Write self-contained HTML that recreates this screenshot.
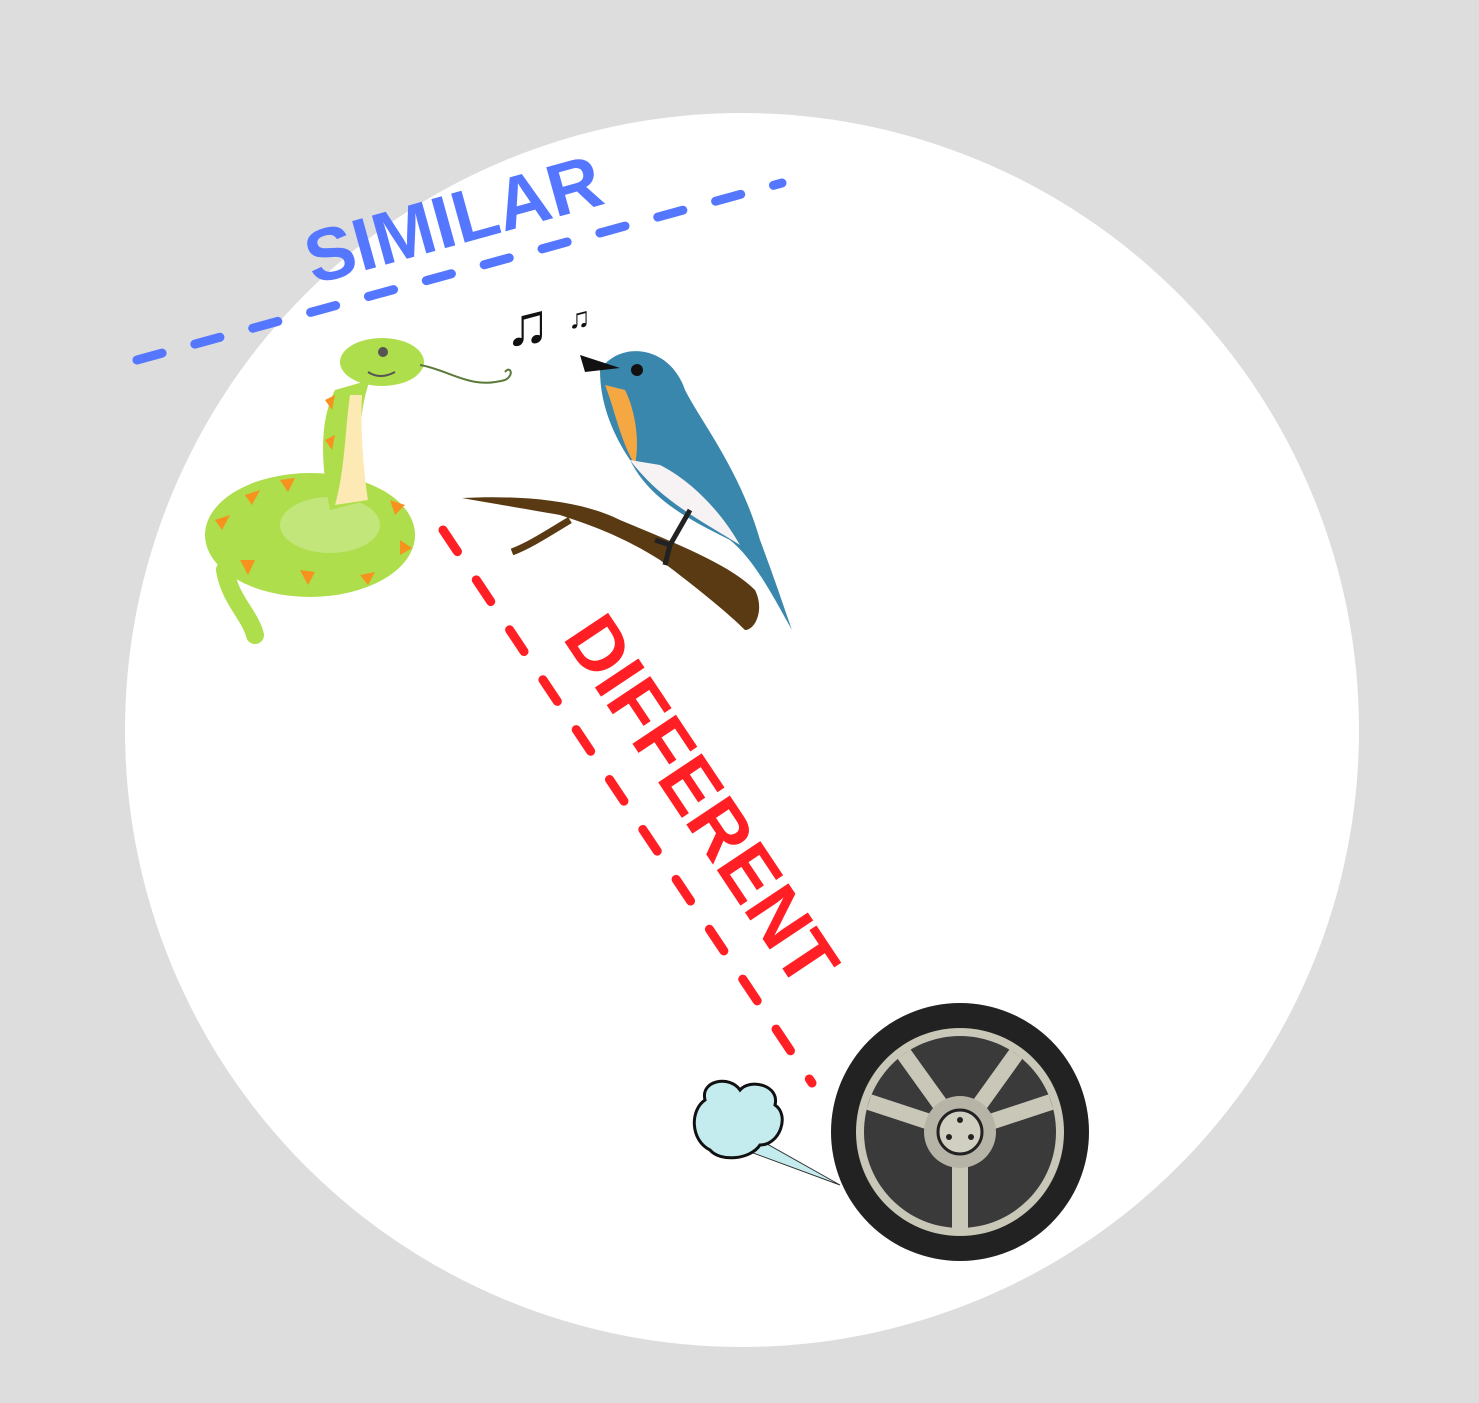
<!DOCTYPE html>
<html>
<head>
<meta charset="utf-8">
<style>
  html,body{margin:0;padding:0;background:#dddddd;}
  svg{display:block;}
  text{font-family:"Liberation Sans",sans-serif;font-weight:bold;}
</style>
</head>
<body>
<svg width="1479" height="1403" viewBox="0 0 1479 1403">
  <rect x="0" y="0" width="1479" height="1403" fill="#dddddd"/>
  <circle cx="742" cy="730" r="617" fill="#ffffff"/>

  <!-- similar line -->
  <line x1="137" y1="360" x2="782" y2="183" stroke="#5577ff" stroke-width="9" stroke-linecap="round" stroke-dasharray="26 34"/>
  <text x="460" y="244" font-size="74" fill="#5577ff" text-anchor="middle" transform="rotate(-15.5 460 244)">SIMILAR</text>

  <!-- different line -->
  <line x1="443" y1="530" x2="812" y2="1083" stroke="#ff1f24" stroke-width="9" stroke-linecap="round" stroke-dasharray="26 34"/>
  <text x="680" y="815" font-size="76" fill="#ff1f24" text-anchor="middle" transform="rotate(56.3 680 815)">DIFFERENT</text>

  <!-- snake -->
  <g>
    <ellipse cx="310" cy="535" rx="105" ry="62" fill="#aede4c"/>
    <ellipse cx="330" cy="525" rx="50" ry="28" fill="#ffffff" opacity="0.25"/>
    <path d="M330 510 C320 460 320 420 335 390 L370 380 C355 420 360 470 370 500 Z" fill="#aede4c"/>
    <path d="M335 505 C345 470 345 430 350 395 L362 395 C360 440 365 480 368 500 Z" fill="#fde9b3"/>
    <path d="M225 570 C230 600 250 615 255 635" stroke="#aede4c" stroke-width="18" fill="none" stroke-linecap="round"/>
    <ellipse cx="382" cy="362" rx="42" ry="24" fill="#aede4c"/>
    <circle cx="383" cy="352" r="5" fill="#555"/>
    <path d="M368 372 Q380 380 395 372" stroke="#555" stroke-width="2" fill="none"/>
    <path d="M420 365 C450 370 470 390 505 380 C515 375 510 365 505 372" stroke="#5a7a3a" stroke-width="2" fill="none"/>
    <g fill="#f7921e">
      <polygon points="215,520 230,515 222,530"/><polygon points="245,495 260,490 252,505"/>
      <polygon points="280,480 295,478 288,492"/><polygon points="390,500 405,505 395,515"/>
      <polygon points="240,560 255,560 248,575"/><polygon points="300,570 315,572 308,585"/>
      <polygon points="360,575 375,572 368,585"/><polygon points="400,540 412,548 400,555"/>
      <polygon points="325,400 335,395 332,410"/><polygon points="325,440 335,435 332,450"/>
    </g>
  </g>

  <!-- music notes -->
  <text x="505" y="345" font-size="60" fill="#111">♫</text>
  <text x="568" y="328" font-size="30" fill="#111">♫</text>

  <!-- branch -->
  <g>
    <path d="M462 498 C520 495 580 500 620 520 C680 545 730 565 755 590 C765 610 755 630 745 630 C730 615 700 590 660 560 C620 535 590 525 560 515 C520 508 490 503 462 498 Z" fill="#5a3a12"/>
    <path d="M570 520 C545 535 530 545 512 552" stroke="#5a3a12" stroke-width="7" fill="none"/>
  </g>

  <!-- bird -->
  <g>
    <path d="M600 370 C620 340 670 345 685 390 C700 420 740 470 760 540 C775 580 785 610 792 630 C775 600 755 560 730 540 C690 520 650 500 630 460 C610 430 600 400 600 370 Z" fill="#3a87ad"/>
    <path d="M605 385 C615 410 620 440 635 465 C640 440 635 410 625 390 Z" fill="#f5a742"/>
    <path d="M630 460 C660 500 700 520 740 545 C720 510 690 480 660 465 Z" fill="#f7f3f5"/>
    <path d="M580 355 L620 368 L585 372 Z" fill="#111"/>
    <circle cx="637" cy="370" r="6" fill="#111"/>
    <path d="M690 510 L670 545 M670 545 L655 540 M670 545 L665 565" stroke="#222" stroke-width="5" fill="none"/>
  </g>

  <!-- dust puff -->
  <g>
    <path d="M840 1185 L745 1150 L760 1140 Z" fill="#c4ecee" stroke="#333" stroke-width="1"/>
    <path d="M710 1150 C690 1140 690 1110 705 1100 C700 1080 730 1075 740 1090 C750 1078 780 1085 775 1105 C790 1115 780 1145 760 1145 C750 1160 720 1162 710 1150 Z" fill="#c4ecee" stroke="#111" stroke-width="3"/>
  </g>

  <!-- wheel -->
  <g>
    <circle cx="960" cy="1132" r="129" fill="#222"/>
    <circle cx="960" cy="1132" r="104" fill="#c8c7b8"/>
    <circle cx="960" cy="1132" r="96" fill="#3a3a3a"/>
    <g stroke="#c8c7b8" stroke-width="16">
      <line x1="960" y1="1132" x2="960" y2="1228"/>
      <line x1="960" y1="1132" x2="869" y2="1102"/>
      <line x1="960" y1="1132" x2="1051" y2="1102"/>
      <line x1="960" y1="1132" x2="904" y2="1054"/>
      <line x1="960" y1="1132" x2="1016" y2="1054"/>
    </g>
    <circle cx="960" cy="1132" r="36" fill="#b5b4a6"/>
    <circle cx="960" cy="1132" r="22" fill="#d0cfc2" stroke="#222" stroke-width="3"/>
    <circle cx="960" cy="1120" r="3" fill="#222"/>
    <circle cx="949" cy="1137" r="3" fill="#222"/>
    <circle cx="971" cy="1137" r="3" fill="#222"/>
  </g>
</svg>
</body>
</html>
